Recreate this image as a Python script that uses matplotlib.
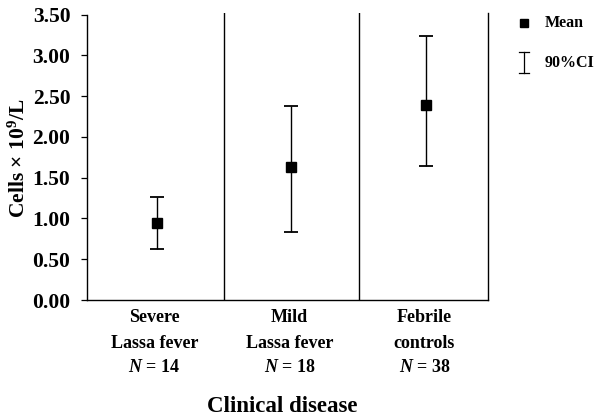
import matplotlib
matplotlib.use("Agg")
import matplotlib.pyplot as plt

categories = ["Severe\nLassa fever", "Mild\nLassa fever", "Febrile\ncontrols"]
n_labels = ["14", "18", "38"]
means = [0.94, 1.63, 2.39]
ci_low = [0.62, 0.83, 1.64]
ci_high = [1.26, 2.38, 3.24]
yticks = [0.0, 0.5, 1.0, 1.5, 2.0, 2.5, 3.0, 3.5]

plt.rcParams['font.family'] = ['Liberation Serif', 'DejaVu Serif']
plt.rcParams['font.weight'] = 'bold'
plt.rcParams['mathtext.fontset'] = 'custom'
plt.rcParams['mathtext.rm'] = 'Liberation Serif:bold'
plt.rcParams['mathtext.it'] = 'Liberation Serif:bold:italic'
plt.rcParams['mathtext.bf'] = 'Liberation Serif:bold'

fig = plt.figure(figsize=(5.96, 4.2), dpi=100)
ax = fig.add_axes([87/596, 1-300/420, (488-87)/596, (300-13)/420])

xs = [i + 0.5 for i in range(len(means))]
lower = [m - l for m, l in zip(means, ci_low)]
upper = [h - m for m, h in zip(means, ci_high)]
ax.errorbar(xs, means, yerr=[lower, upper], fmt='s', color='black',
            markersize=7.5, capsize=5, elinewidth=1.0, capthick=1.3)

ax.set_xlim(-0.015, 2.956)
ax.set_ylim(0, 3.52)
ax.set_yticks(yticks)
ax.set_yticklabels([f"{v:.2f}" for v in yticks], fontsize=15.5, fontweight='bold')
ax.tick_params(axis='y', direction='out', length=4, width=0.9, pad=8)
ax.set_xticks([])

ax.spines['top'].set_visible(False)
ax.spines['left'].set_bounds(0, 3.5)
for s in ['left', 'bottom', 'right']:
    ax.spines[s].set_linewidth(1.0)
for xd in [1, 2]:
    ax.axvline(xd, color='black', lw=1.0)

for x, c, n in zip(xs, categories, n_labels):
    for k, line in enumerate(c.split("\n")):
        ax.annotate(line, xy=(x, 0), xycoords='data',
                    xytext=(-2, -18 - 25 * k), textcoords='offset pixels',
                    ha='center', va='center', fontsize=13, fontweight='bold')
    ax.annotate(r"$\mathit{N}$ = " + n, xy=(x, 0), xycoords='data',
                xytext=(-2, -68), textcoords='offset pixels',
                ha='center', va='center', fontsize=13, fontweight='bold')

fig.text(282/596, 1-407/420, "Clinical disease", ha='center', va='center',
         fontsize=16.5, fontweight='bold')
fig.text(19/596, 1-158/420, r"Cells × 10$^{9}$/L", ha='center', va='center',
         rotation=90, fontsize=15.5, fontweight='bold')

# legend
fig.lines.append(plt.Line2D([524/596], [1-23/420], marker='s', color='black',
                            markersize=6, transform=fig.transFigure))
fig.text(545/596, 1-23/420, "Mean", ha='left', va='center', fontsize=11.5, fontweight='bold')
fig.lines.append(plt.Line2D([524/596, 524/596], [1-52/420, 1-73/420], color='black',
                            lw=0.9, transform=fig.transFigure))
for yy in [52, 73]:
    fig.lines.append(plt.Line2D([519/596, 529/596], [1-yy/420, 1-yy/420], color='black',
                                lw=0.9, transform=fig.transFigure))
fig.text(545/596, 1-63/420, "90%CI", ha='left', va='center', fontsize=11.5, fontweight='bold')

fig.savefig("out.png", dpi=100)
